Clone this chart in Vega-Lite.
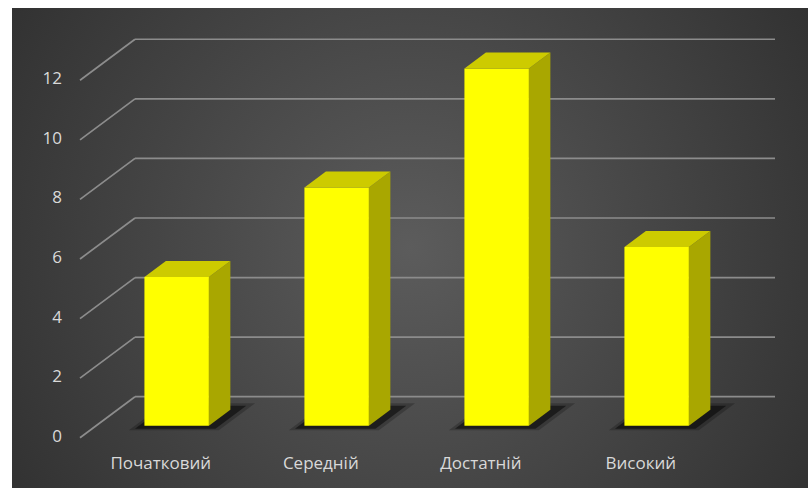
{
  "$schema": "https://vega.github.io/schema/vega-lite/v6.json",
  "width": 640,
  "height": 417,
  "autosize": {"type": "none"},
  "padding": {"left": 80, "top": 20.7, "right": 88, "bottom": 50.3},
  "background": "white",
  "config": {"view": {"stroke": null}},
  "datasets": {
    "levels": [
      {"level": "Початковий", "count": 5},
      {"level": "Середній", "count": 8},
      {"level": "Достатній", "count": 12},
      {"level": "Високий", "count": 6}
    ],
    "ticks": [
      {"v": 0}, {"v": 2}, {"v": 4}, {"v": 6}, {"v": 8}, {"v": 10}, {"v": 12}
    ]
  },
  "layer": [
    {
      "data": {"values": [{}]},
      "mark": {
        "type": "rect",
        "fill": {
          "gradient": "radial",
          "x1": 0.5, "y1": 0.5, "r1": 0,
          "x2": 0.5, "y2": 0.5, "r2": 0.75,
          "stops": [
            {"offset": 0, "color": "#5c5c5c"},
            {"offset": 1, "color": "#262626"}
          ]
        }
      },
      "encoding": {
        "x": {"datum": -0.425, "type": "quantitative", "scale": {"domain": [0, 4], "nice": false, "zero": false}, "axis": null},
        "x2": {"datum": 4.55},
        "y": {"datum": 14.43, "type": "quantitative", "scale": {"domain": [0, 14], "nice": false}, "axis": null},
        "y2": {"datum": -1.69}
      }
    },
    {
      "data": {"name": "ticks"},
      "transform": [{"calculate": "datum.v + 1.3765", "as": "vb"}],
      "layer": [
        {
          "mark": {"type": "rule", "color": "#8c8c8c", "strokeWidth": 1.7},
          "encoding": {
            "x": {"datum": 0.34375, "type": "quantitative", "scale": {"domain": [0, 4], "nice": false, "zero": false}, "axis": null},
            "x2": {"datum": 4.34375},
            "y": {"field": "vb", "type": "quantitative", "scale": {"domain": [0, 14], "nice": false}, "axis": null}
          }
        },
        {
          "mark": {"type": "rule", "color": "#8c8c8c", "strokeWidth": 1.7},
          "encoding": {
            "x": {"datum": 0, "type": "quantitative", "scale": {"domain": [0, 4], "nice": false, "zero": false}, "axis": null},
            "x2": {"datum": 0.34375},
            "y": {"field": "v", "type": "quantitative", "scale": {"domain": [0, 14], "nice": false}, "axis": null},
            "y2": {"field": "vb"}
          }
        },
        {
          "mark": {"type": "text", "font": "Open Sans", "fontSize": 17, "fill": "#d9d9d9", "align": "right", "baseline": "middle", "dx": -18, "dy": -1},
          "encoding": {
            "x": {"datum": 0, "type": "quantitative", "scale": {"domain": [0, 4], "nice": false, "zero": false}, "axis": null},
            "y": {"field": "v", "type": "quantitative", "scale": {"domain": [0, 14], "nice": false}, "axis": null},
            "text": {"field": "v", "type": "quantitative"}
          }
        }
      ]
    },
    {
      "data": {"name": "levels"},
      "transform": [
        {"window": [{"op": "row_number", "as": "n"}]},
        {"calculate": "datum.n - 1", "as": "i"}
      ],
      "layer": [
        {
          "transform": [
            {"calculate": "[0.18, 0.84]", "as": "z"},
            {"flatten": ["z"]},
            {"calculate": "datum.z * 1.3765", "as": "sy"},
            {"calculate": "datum.i + 0.303 + datum.z * 0.34375 - 0.06", "as": "sx1"},
            {"calculate": "datum.sx1 + 0.403 + 0.16", "as": "sx2"}
          ],
          "mark": {"type": "area", "orient": "horizontal", "fill": "#000000", "opacity": 0.22},
          "encoding": {
            "y": {"field": "sy", "type": "quantitative", "scale": {"domain": [0, 14], "nice": false}, "axis": null, "stack": null},
            "x": {"field": "sx1", "type": "quantitative", "scale": {"domain": [0, 4], "nice": false, "zero": false}, "axis": null, "stack": null},
            "x2": {"field": "sx2"},
            "detail": {"field": "level"}
          }
        },
        {
          "transform": [
            {"calculate": "[0.22, 0.78]", "as": "z"},
            {"flatten": ["z"]},
            {"calculate": "datum.z * 1.3765", "as": "sy"},
            {"calculate": "datum.i + 0.303 + datum.z * 0.34375 - 0.035", "as": "sx1"},
            {"calculate": "datum.sx1 + 0.403 + 0.1", "as": "sx2"}
          ],
          "mark": {"type": "area", "orient": "horizontal", "fill": "#000000", "opacity": 0.5},
          "encoding": {
            "y": {"field": "sy", "type": "quantitative", "scale": {"domain": [0, 14], "nice": false}, "axis": null, "stack": null},
            "x": {"field": "sx1", "type": "quantitative", "scale": {"domain": [0, 4], "nice": false, "zero": false}, "axis": null, "stack": null},
            "x2": {"field": "sx2"},
            "detail": {"field": "level"}
          }
        },
        {
          "transform": [
            {"calculate": "datum.i + 0.303 + 0.29 * 0.34375", "as": "fx1"},
            {"calculate": "datum.fx1 + 0.403", "as": "fx2"},
            {"calculate": "0.29 * 1.3765", "as": "fy1"},
            {"calculate": "datum.count + datum.fy1", "as": "fy2"}
          ],
          "mark": {"type": "rect", "fill": "#ffff00"},
          "encoding": {
            "x": {"field": "fx1", "type": "quantitative", "scale": {"domain": [0, 4], "nice": false, "zero": false}, "axis": null},
            "x2": {"field": "fx2"},
            "y": {"field": "fy2", "type": "quantitative", "scale": {"domain": [0, 14], "nice": false}, "axis": null},
            "y2": {"field": "fy1"}
          }
        },
        {
          "transform": [
            {"calculate": "[0.29, 0.68]", "as": "z"},
            {"flatten": ["z"]},
            {"calculate": "datum.i + 0.706 + datum.z * 0.34375", "as": "sx"},
            {"calculate": "datum.count + datum.z * 1.3765", "as": "st"},
            {"calculate": "datum.z * 1.3765", "as": "sb"}
          ],
          "mark": {"type": "area", "orient": "vertical", "fill": "#a9a700"},
          "encoding": {
            "x": {"field": "sx", "type": "quantitative", "scale": {"domain": [0, 4], "nice": false, "zero": false}, "axis": null, "stack": null},
            "y": {"field": "st", "type": "quantitative", "scale": {"domain": [0, 14], "nice": false}, "axis": null, "stack": null},
            "y2": {"field": "sb"},
            "detail": {"field": "level"}
          }
        },
        {
          "transform": [
            {"calculate": "[0.29, 0.68]", "as": "z"},
            {"flatten": ["z"]},
            {"calculate": "datum.count + datum.z * 1.3765", "as": "ty"},
            {"calculate": "datum.i + 0.303 + datum.z * 0.34375", "as": "tx1"},
            {"calculate": "datum.tx1 + 0.403", "as": "tx2"}
          ],
          "mark": {"type": "area", "orient": "horizontal", "fill": "#cdcb00"},
          "encoding": {
            "y": {"field": "ty", "type": "quantitative", "scale": {"domain": [0, 14], "nice": false}, "axis": null, "stack": null},
            "x": {"field": "tx1", "type": "quantitative", "scale": {"domain": [0, 4], "nice": false, "zero": false}, "axis": null, "stack": null},
            "x2": {"field": "tx2"},
            "detail": {"field": "level"}
          }
        },
        {
          "transform": [{"calculate": "datum.i + 0.505", "as": "mid"}],
          "mark": {"type": "text", "font": "Open Sans", "fontSize": 17, "fill": "#d9d9d9", "baseline": "middle", "dy": 26},
          "encoding": {
            "x": {"field": "mid", "type": "quantitative", "scale": {"domain": [0, 4], "nice": false, "zero": false}, "axis": null},
            "y": {"datum": 0, "type": "quantitative", "scale": {"domain": [0, 14], "nice": false}, "axis": null},
            "text": {"field": "level"}
          }
        }
      ]
    }
  ]
}
